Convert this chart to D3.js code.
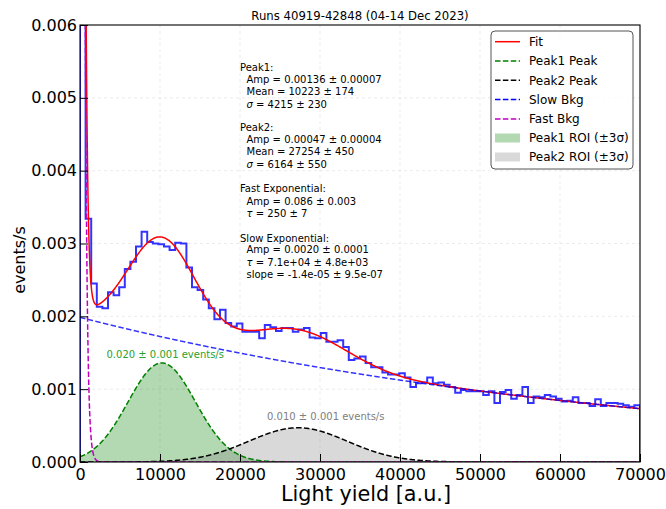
<!DOCTYPE html>
<html><head><meta charset="utf-8">
<script src="https://cdn.jsdelivr.net/npm/d3@7"></script>
<style>
body{margin:0;background:#fff}
svg{display:block}
text{font-family:"DejaVu Sans",sans-serif}
</style>
</head><body>
<svg id="c" width="666" height="509"></svg>
<script>
// ---------------- data ----------------
const title = "Runs 40919-42848 (04-14 Dec 2023)";
const xLabel = "Light yield [a.u.]";
const yLabel = "events/s";
const xTicks = [0,10000,20000,30000,40000,50000,60000,70000];
const yTicks = [0,0.001,0.002,0.003,0.004,0.005,0.006];
const binStart = 0, binWidth = 700;
const histValues = [
 0.0285,0.00334,0.00245,0.00213,0.00211,0.00233,0.00229,0.00240,0.00265,0.00275,
 0.00296,0.00316,0.00302,0.00300,0.00299,0.00296,0.00291,0.00301,0.00300,0.00267,
 0.00240,0.00236,0.00223,0.00211,0.00196,0.00209,0.00191,0.00186,0.00190,0.00179,
 0.00179,0.00179,0.00170,0.00188,0.00185,0.00180,0.00184,0.00184,0.00179,0.00182,
 0.00184,0.00171,0.00170,0.00177,0.00165,0.00165,0.00167,0.00158,0.00140,0.00142,
 0.00145,0.00136,0.00130,0.00130,0.00123,0.00120,0.00120,0.00122,0.00116,0.00103,
 0.00108,0.00109,0.00116,0.00108,0.00109,0.00106,0.00103,0.00095,0.00099,0.00097,
 0.00097,0.00097,0.00092,0.00097,0.00081,0.00096,0.00099,0.00087,0.00092,0.00103,
 0.00081,0.00090,0.00089,0.00092,0.00090,0.00087,0.00083,0.00084,0.00089,0.00081,
 0.00081,0.00077,0.00086,0.00077,0.00081,0.00081,0.00080,0.00078,0.00076,0.00078
];
// fit parameters: [amp, mean, sigma]
const peak1 = [0.00136, 10223, 4215];
const peak2 = [0.00047, 27254, 6164];
// [amp, tau]
const fastExp = [0.086, 250];
// [amp, tau, offset]
const slowExp = [0.0020, 71000, -1.4e-5];
const roiLabels = ["0.020 \u00b1 0.001 events/s", "0.010 \u00b1 0.001 events/s"];
const legendLabels = ["Fit","Peak1 Peak","Peak2 Peak","Slow Bkg","Fast Bkg","Peak1 ROI (\u00b13\u03c3)","Peak2 ROI (\u00b13\u03c3)"];
const infoLines = [
 ["", "Peak1:", 0],
 ["", "Amp = 0.00136 \u00b1 0.00007", 1],
 ["", "Mean = 10223 \u00b1 174", 1],
 ["\u03c3", " = 4215 \u00b1 230", 1],
 ["", "Peak2:", 0],
 ["", "Amp = 0.00047 \u00b1 0.00004", 1],
 ["", "Mean = 27254 \u00b1 450", 1],
 ["\u03c3", " = 6164 \u00b1 550", 1],
 ["", "Fast Exponential:", 0],
 ["", "Amp = 0.086 \u00b1 0.003", 1],
 ["\u03c4", " = 250 \u00b1 7", 1],
 ["", "Slow Exponential:", 0],
 ["", "Amp = 0.0020 \u00b1 0.0001", 1],
 ["\u03c4", " = 7.1e+04 \u00b1 4.8e+03", 1],
 ["", "slope = -1.4e-05 \u00b1 9.5e-07", 1]
];

// ---------------- drawing ----------------
const svg = d3.select("#c");
const L=80, R=640, T=25, B=462;
const x = d3.scaleLinear().domain([0,70000]).range([L,R]);
const y = d3.scaleLinear().domain([0,0.006]).range([B,T]);

const gauss = (p,v)=>p[0]*Math.exp(-((v-p[1])**2)/(2*p[2]*p[2]));
const fast = v=>fastExp[0]*Math.exp(-v/fastExp[1]);
const slow = v=>slowExp[0]*Math.exp(-v/slowExp[1]) + slowExp[2];
const fit = v=>gauss(peak1,v)+gauss(peak2,v)+fast(v)+slow(v);

const xs = [];
for(let v=0; v<3000; v+=5) xs.push(v);
for(let v=3000; v<=70000; v+=50) xs.push(v);

svg.append("defs").append("clipPath").attr("id","clip")
  .append("rect").attr("x",L).attr("y",T).attr("width",R-L).attr("height",B-T);

// grid
const grid = svg.append("g");
xTicks.slice(1,-1).forEach(t=>grid.append("line").attr("x1",x(t)).attr("x2",x(t)).attr("y1",T).attr("y2",B)
  .attr("stroke","#e6e6e6").attr("stroke-width",0.8).attr("stroke-dasharray","3,3"));
yTicks.slice(1,-1).forEach(t=>grid.append("line").attr("x1",L).attr("x2",R).attr("y1",y(t)).attr("y2",y(t))
  .attr("stroke","#e6e6e6").attr("stroke-width",0.8).attr("stroke-dasharray","3,3"));

const plot = svg.append("g").attr("clip-path","url(#clip)");

// ROI fills
function roiArea(p, color){
  const lo=Math.max(0,p[1]-3*p[2]), hi=p[1]+3*p[2];
  const pts=[];
  for(let v=lo; v<=hi; v+=50) pts.push(v);
  pts.push(hi);
  plot.append("path").datum(pts)
    .attr("d", d3.area().x(v=>x(v)).y0(y(0)).y1(v=>y(gauss(p,v))))
    .attr("fill",color).attr("fill-opacity",0.3);
}
roiArea(peak1,"#008000");
roiArea(peak2,"#808080");

// histogram (step outline)
const hpts=[[binStart,0]];
histValues.forEach((v,i)=>{hpts.push([binStart+i*binWidth,v]);hpts.push([binStart+(i+1)*binWidth,v]);});
hpts.push([binStart+histValues.length*binWidth,0]);
plot.append("path").datum(hpts)
  .attr("d", d3.line().x(d=>x(d[0])).y(d=>y(d[1])))
  .attr("fill","none").attr("stroke","#0000ff").attr("stroke-opacity",0.8).attr("stroke-width",2);

const line = f=>d3.line().x(v=>x(v)).y(v=>Math.max(-50,y(f(v))));
const dash = "5.5,2.4";
plot.append("path").datum(xs).attr("d",line(fit)).attr("fill","none").attr("stroke","#ff0000").attr("stroke-width",1.5);
plot.append("path").datum(xs).attr("d",line(v=>gauss(peak1,v))).attr("fill","none").attr("stroke","#008000").attr("stroke-width",1.5).attr("stroke-dasharray",dash);
plot.append("path").datum(xs).attr("d",line(v=>gauss(peak2,v))).attr("fill","none").attr("stroke","#000").attr("stroke-width",1.5).attr("stroke-dasharray",dash);
plot.append("path").datum(xs).attr("d",line(slow)).attr("fill","none").attr("stroke","#0000ff").attr("stroke-opacity",0.8).attr("stroke-width",1.5).attr("stroke-dasharray",dash);
plot.append("path").datum(xs).attr("d",line(fast)).attr("fill","none").attr("stroke","#bf00bf").attr("stroke-width",1.5).attr("stroke-dasharray",dash);

// ROI labels
svg.append("text").attr("x",106.5).attr("y",358).attr("font-size",10).attr("fill","#2ca02c").text(roiLabels[0]);
svg.append("text").attr("x",267).attr("y",420).attr("font-size",10).attr("fill","#808080").text(roiLabels[1]);

// axes
const xAxis = svg.append("g").attr("transform",`translate(0,${B})`)
  .call(d3.axisBottom(x).tickValues(xTicks).tickFormat(d3.format("d")).tickSize(-8).tickPadding(6.5));
const yAxis = svg.append("g").attr("transform",`translate(${L},0)`)
  .call(d3.axisLeft(y).tickValues(yTicks).tickFormat(d3.format(".3f")).tickSize(-8).tickPadding(3));
[xAxis,yAxis].forEach(a=>{
  a.select(".domain").remove();
  a.selectAll("text").attr("font-size",16).attr("font-family","DejaVu Sans").attr("fill","#000");
  a.selectAll("line").attr("stroke","#000");
});
// frame
svg.append("rect").attr("x",L).attr("y",T).attr("width",R-L).attr("height",B-T)
  .attr("fill","none").attr("stroke","#000").attr("stroke-width",1.1);

// labels
svg.append("text").attr("x",(L+R)/2).attr("y",20).attr("text-anchor","middle").attr("font-size",11.7).text(title);
const xl = svg.append("text").attr("x",366).attr("y",501).attr("text-anchor","middle")
  .attr("font-family","Lato").attr("font-size",24).text(xLabel);
const w0 = xl.node().getComputedTextLength();
xl.attr("font-size", 24*170/w0);
svg.append("text").attr("transform","translate(25,260) rotate(-90)").attr("text-anchor","middle")
  .attr("font-size",16).text(yLabel);

// info text
const infoY = [71,83,94.5,108,131,142.5,154.5,168,191.5,204.5,217,241.5,253,266,278];
infoLines.forEach((l,i)=>{
  const t = svg.append("text").attr("x", l[2]?246.5:240).attr("y",infoY[i]).attr("font-size",10).attr("fill","#000");
  if(l[0]) t.append("tspan").attr("font-style","italic").text(l[0]);
  t.append("tspan").text(l[1]);
});

// legend
const lg = svg.append("g");
lg.append("rect").attr("x",491).attr("y",31).attr("width",142).attr("height",138).attr("rx",4)
  .attr("fill","#fff").attr("fill-opacity",0.8).attr("stroke","#555").attr("stroke-width",1);
const legStyles = [
  {c:"#ff0000",d:null},{c:"#008000",d:dash},{c:"#000",d:dash},{c:"#0000ff",d:dash},{c:"#bf00bf",d:dash},
  {c:"#008000",p:true},{c:"#808080",p:true}
];
const legY = [41.7,61,80.3,99.6,118.9,138,157];
legendLabels.forEach((lab,i)=>{
  const s=legStyles[i], yy=legY[i];
  if(s.p){
    lg.append("rect").attr("x",495).attr("y",yy-4.5).attr("width",25).attr("height",9)
      .attr("fill",s.c).attr("fill-opacity",0.3);
  } else {
    const ln=lg.append("line").attr("x1",495).attr("x2",520).attr("y1",yy).attr("y2",yy)
      .attr("stroke",s.c).attr("stroke-width",1.5);
    if(s.d) ln.attr("stroke-dasharray",s.d);
  }
  lg.append("text").attr("x",529).attr("y",yy+4.3).attr("font-size",12).text(lab);
});
</script>
</body></html>
